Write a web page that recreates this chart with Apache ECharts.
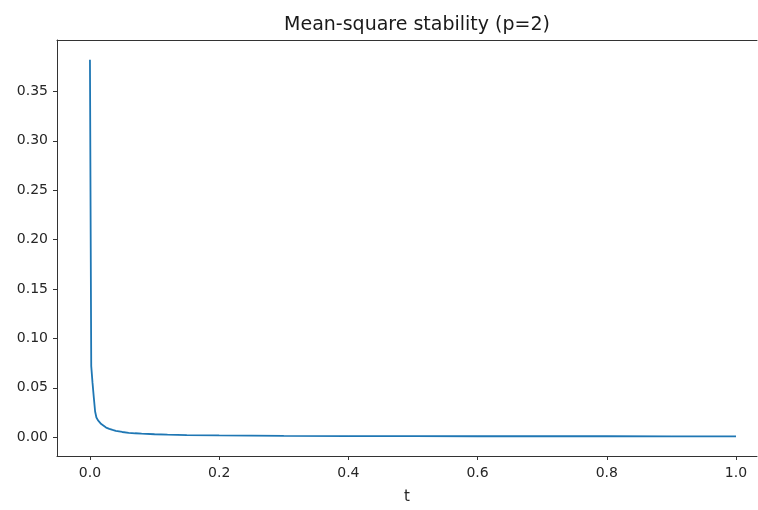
<!DOCTYPE html>
<html>
<head>
<meta charset="utf-8">
<script src="https://cdn.jsdelivr.net/npm/echarts@6/dist/echarts.min.js"></script>
<style>
  html, body { margin: 0; padding: 0; background: #fff; }
  #chart1 { width: 758px; height: 510px; }
</style>
</head>
<body>
<div id="chart1"></div>
<script>
const tValues = [0, 0.002, 0.004, 0.006, 0.008, 0.01, 0.0125, 0.015, 0.0175, 0.02, 0.025, 0.03,
    0.035, 0.04, 0.05, 0.06, 0.07, 0.08, 0.1, 0.12, 0.15, 0.2, 0.25, 0.3, 0.4, 0.5, 0.6, 0.7, 0.8, 0.9, 1.0];
const msValues = [0.382, 0.072, 0.055, 0.04, 0.026, 0.02, 0.017, 0.015, 0.0133, 0.012, 0.0098, 0.0085,
    0.0074, 0.0065, 0.0053, 0.0045, 0.004, 0.0036, 0.003, 0.0026, 0.0022, 0.0018, 0.0016, 0.0014, 0.0012,
    0.0011, 0.001, 0.001, 0.001, 0.0009, 0.0009];
const xTicks = [0, 0.2, 0.4, 0.6, 0.8, 1.0];
const yTicks = [0, 0.05, 0.1, 0.15, 0.2, 0.25, 0.3, 0.35];

const getOptionChart1 = () => {
    const axisText = { color: '#262626', fontSize: 14, fontFamily: 'DejaVu Sans' };
    // the plot runs past the right edge of the picture, so x max is cut at ~1.03
    const xMin = -0.051;
    const xMax = 1.0325;
    return {
        animation: false,
        title: {
            text: 'Mean-square stability (p=2)',
            left: 412,
            top: 11,
            textAlign: 'center',
            textStyle: { fontFamily: 'DejaVu Sans', fontSize: 19, fontWeight: 'normal', color: '#1a1a1a' }
        },
        grid: { left: 57, top: 40, right: 1, bottom: 48, containLabel: false },
        xAxis: [
            {
                type: 'value',
                min: xMin,
                max: xMax,
                name: 't',
                nameLocation: 'middle',
                nameGap: 34,
                nameTextStyle: { fontFamily: 'DejaVu Sans', fontSize: 15, color: '#262626' },
                axisLine: { show: true, onZero: false, lineStyle: { color: '#333', width: 1 } },
                axisTick: { show: true, length: 4, lineStyle: { color: '#333' }, customValues: xTicks },
                axisLabel: {
                    ...axisText, margin: 10, customValues: xTicks,
                    formatter: v => v.toFixed(1)
                },
                splitLine: { show: false }
            },
            {
                type: 'value',
                position: 'top',
                min: xMin,
                max: xMax,
                axisLine: { show: true, onZero: false, lineStyle: { color: '#333', width: 1 } },
                axisTick: { show: false },
                axisLabel: { show: false },
                splitLine: { show: false }
            }
        ],
        yAxis: {
            type: 'value',
            min: -0.019,
            max: 0.402,
            axisLine: { show: true, onZero: false, lineStyle: { color: '#333', width: 1 } },
            axisTick: { show: true, length: 4, lineStyle: { color: '#333' }, customValues: yTicks },
            axisLabel: {
                ...axisText, margin: 9, customValues: yTicks,
                formatter: v => v.toFixed(2)
            },
            splitLine: { show: false }
        },
        series: [
            {
                type: 'line',
                data: tValues.map((t, i) => [t, msValues[i]]),
                showSymbol: false,
                smooth: false,
                lineStyle: { color: '#1f77b4', width: 1.8 },
                itemStyle: { color: '#1f77b4' }
            }
        ]
    };
};

const initCharts = () => {
    const chart1 = echarts.init(document.getElementById("chart1"));
    chart1.setOption(getOptionChart1());
};

window.addEventListener("load", () => {
    initCharts();
});
</script>
</body>
</html>
